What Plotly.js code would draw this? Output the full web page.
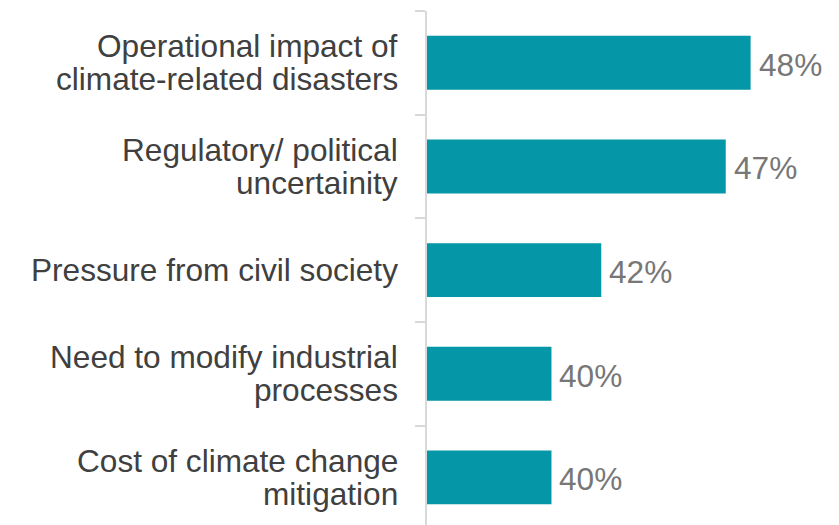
<!DOCTYPE html>
<html><head><meta charset="utf-8">
<script src="https://cdn.plot.ly/plotly-3.0.1.min.js"></script>
<style>html,body{margin:0;padding:0;background:#fff;}#chart{width:839px;height:525px;}</style>
</head><body><div id="chart"></div>
<script>
const categories = [
  "Operational impact of climate-related disasters",
  "Regulatory/ political uncertainity",
  "Pressure from civil society",
  "Need to modify industrial processes",
  "Cost of climate change mitigation"
];
const labelLines = [
  ["Operational impact of", "climate-related disasters"],
  ["Regulatory/ political", "uncertainity"],
  ["Pressure from civil society"],
  ["Need to modify industrial", "processes"],
  ["Cost of climate change", "mitigation"]
];
const values = [48, 47, 42, 40, 40];
const valueLabels = ["48%", "47%", "42%", "40%", "40%"];

const FONT = 'Liberation Sans, Arial, sans-serif';

const trace = {
  type: 'bar', orientation: 'h',
  y: categories, x: values,
  marker: {color: '#0597a7'},
  hoverinfo: 'skip'
};

const annotations = [];
const LINE = 33;
categories.forEach((c, i) => {
  const lines = labelLines[i];
  lines.forEach((ln, j) => {
    const off = (j - (lines.length - 1) / 2) * LINE;
    annotations.push({
      xref: 'paper', yref: 'y', x: 0, y: c, xanchor: 'right', yanchor: 'middle',
      xshift: -27, yshift: -off, text: ln, showarrow: false,
      font: {family: FONT, size: 31.6, color: '#404040'}
    });
  });
  annotations.push({
    xref: 'x', yref: 'y', x: values[i], y: c, xanchor: 'left', yanchor: 'middle',
    xshift: 6, yshift: -2, text: valueLabels[i], showarrow: false,
    font: {family: FONT, size: 31.6, color: '#777777'}
  });
});

const layout = {
  width: 839, height: 525,
  margin: {l: 427, r: 0, t: 11, b: 0},
  paper_bgcolor: '#fff', plot_bgcolor: '#fff',
  showlegend: false, bargap: 0.48,
  font: {family: FONT, size: 24, color: '#404040'},
  xaxis: {range: [35, 51.55], visible: false, showgrid: false, zeroline: false},
  yaxis: {
    type: 'category', categoryorder: 'array', categoryarray: categories,
    range: [4.46, -0.5], autorange: false,
    showline: true, linecolor: '#d9d9d9', linewidth: 2,
    ticks: 'outside', tickson: 'boundaries', ticklen: 10, tickcolor: '#d9d9d9', tickwidth: 2,
    showticklabels: false,
    showgrid: false, zeroline: false
  },
  annotations: annotations
};
Plotly.newPlot('chart', [trace], layout, {displayModeBar: false, staticPlot: true});
</script></body></html>
